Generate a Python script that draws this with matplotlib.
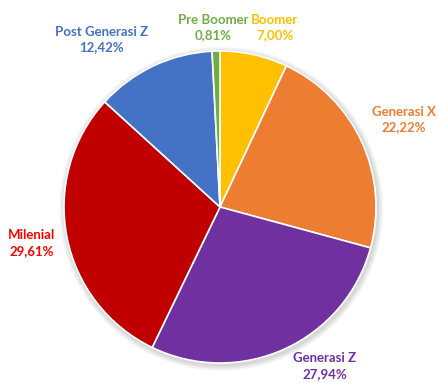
import matplotlib
matplotlib.use("Agg")
import matplotlib.pyplot as plt
from matplotlib.patches import Circle

categories = ["Boomer", "Generasi X", "Generasi Z", "Milenial", "Post Generasi Z", "Pre Boomer"]
values = [7.00, 22.22, 27.94, 29.61, 12.42, 0.81]
slice_colors = ["#FFC000", "#ED7D31", "#7030A0", "#C00000", "#4472C4", "#70AD47"]
label_colors = ["#FFC000", "#ED7D31", "#7030A0", "#FF0000", "#4472C4", "#70AD47"]

# label anchor positions in axes data units (pie radius = 1)
label_pos = {
    "Boomer": (0.35, 1.15),
    "Generasi X": (1.18, 0.56),
    "Generasi Z": (0.67, -1.02),
    "Milenial": (-1.21, -0.23),
    "Post Generasi Z": (-0.76, 1.075),
    "Pre Boomer": (-0.045, 1.15),
}

W, H = 438, 383
fig = plt.figure(figsize=(W / 100, H / 100), dpi=100)
ax = fig.add_axes([0, 0, 1, 1])
R = 156.0
cx, cy = 220.0, 207.0

# soft shadow behind the pie
for i, a in enumerate([0.05, 0.05, 0.06]):
    ax.add_patch(Circle((0.008, -0.012), 1.0 + 0.012 * (3 - i), color="#000000",
                        alpha=a, lw=0, zorder=0))

ax.pie(values, colors=slice_colors, startangle=90, counterclock=False, radius=1.0,
       wedgeprops=dict(edgecolor="white", linewidth=1.2), frame=True)
ax.set_xlim(-cx / R, (W - cx) / R)
ax.set_ylim(-(H - cy) / R, cy / R)
ax.set_aspect("equal")
ax.axis("off")

for cat, val, col in zip(categories, values, label_colors):
    x, y = label_pos[cat]
    txt = f"{cat}\n{val:.2f}%".replace(".", ",")
    ax.text(x, y, txt, ha="center", va="center", color=col, fontsize=9.5,
            fontweight="bold", family=["Lato", "DejaVu Sans"], linespacing=1.35)

fig.savefig("out.png", dpi=100)
